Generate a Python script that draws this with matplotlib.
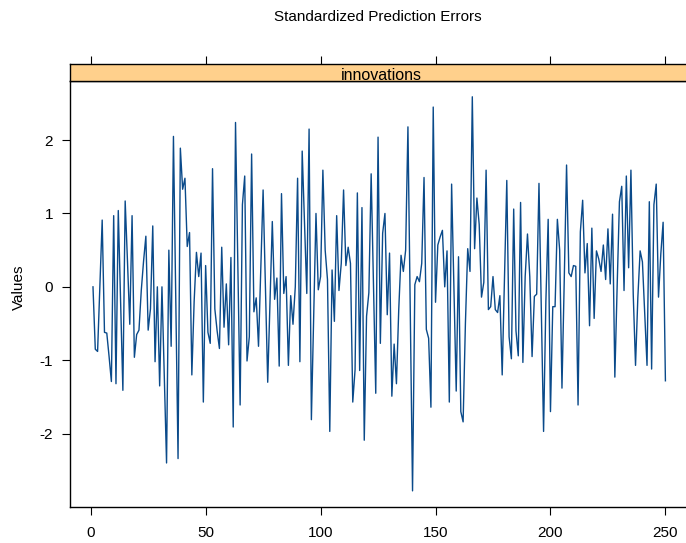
import numpy as np
import matplotlib
matplotlib.use("Agg")
import matplotlib.pyplot as plt

plt.rcParams['font.family'] = ['Liberation Sans', 'DejaVu Sans']

# valores (errores de prediccion estandarizados)
errores = [
    0.00, -0.85, -0.88, 0.02, 0.91, -0.62, -0.63, -0.95, -1.29, 0.97,
    -1.32, 1.04, -0.20, -1.41, 1.17, 0.35, -0.51, 0.97, -0.96, -0.65,
    -0.59, -0.05, 0.35, 0.69, -0.59, -0.30, 0.83, -1.02, 0.00, -1.35,
    0.00, -1.20, -2.40, 0.50, -0.81, 2.05, -0.15, -2.34, 1.89, 1.33,
    1.48, 0.55, 0.74, -1.20, -0.20, 0.47, 0.14, 0.46, -1.57, 0.29,
    -0.62, -0.77, 1.61, -0.30, -0.60, -0.84, 0.54, -0.55, 0.04, -0.79,
    0.40, -1.91, 2.24, 0.32, -1.61, 1.12, 1.51, -1.01, -0.68, 1.81,
    -0.34, -0.15, -0.81, 0.25, 1.32, 0.00, -1.30, -0.20, 0.89, -0.17,
    0.12, -1.08, 1.27, -0.09, 0.14, -1.07, -0.12, -0.51, 0.00, 1.48,
    -1.02, 1.85, 0.88, -0.09, 2.15, -1.81, -0.40, 1.00, -0.04, 0.14,
    1.59, 0.50, 0.10, -1.97, 0.23, -0.47, 0.97, -0.05, 0.32, 1.32,
    0.29, 0.54, 0.32, -1.57, -1.13, 1.28, -1.14, 1.08, -2.09, -0.40,
    -0.08, 1.54, 0.05, -1.45, 2.04, -0.77, 0.73, 1.00, -0.38, 0.46,
    -1.49, -0.78, -1.32, -0.31, 0.43, 0.21, 0.50, 2.18, -0.30, -2.78,
    0.03, 0.14, 0.07, 0.32, 1.49, -0.58, -0.70, -1.64, 2.45, -0.21,
    0.57, 0.68, 0.77, 0.00, 0.49, -1.57, 1.40, 0.00, -1.42, 0.41,
    -1.70, -1.84, -0.50, 0.52, 0.21, 2.59, 0.52, 1.21, 0.85, -0.14,
    0.06, 1.59, -0.31, -0.27, 0.14, -0.31, -0.35, -0.12, -1.20, 0.10,
    1.45, -0.68, -0.98, 1.06, -0.60, -0.94, 1.15, -1.03, 0.14, 0.72,
    0.14, -0.95, -0.13, -0.10, 1.41, -0.30, -1.97, -0.20, 0.92, -1.70,
    -0.27, -0.27, 0.92, 0.50, -1.38, 0.10, 1.66, 0.19, 0.14, 0.29,
    0.28, -1.61, 0.75, 1.18, 0.19, 0.59, -0.53, 0.80, -0.43, 0.49,
    0.38, 0.21, 0.57, 0.10, 0.79, 0.04, 0.99, -1.23, 0.00, 1.16,
    1.37, -0.05, 1.51, 0.26, 1.59, -0.10, -1.07, -0.15, 0.49, 0.34,
    -0.35, -1.07, 1.16, -1.12, 1.12, 1.40, -0.14, 0.45, 0.88, -1.28,
]
indice = np.arange(1, len(errores) + 1)
ticks_x = [0, 50, 100, 150, 200, 250]
ticks_y = [-2, -1, 0, 1, 2]
titulo_panel = "innovations"

W, H = 686, 543
fig = plt.figure(figsize=(W / 100, H / 100), dpi=100)

# panel principal (se sale un poco por la derecha, como en el original)
izq, der = 70, 693
abajo, arriba = 507, 81
ax = fig.add_axes([izq / W, (H - abajo) / H, (der - izq) / W, (abajo - arriba) / H])
ax.plot(indice, errores, color='#0a4a8a', lw=1.0)
ax.set_xlim(-9, 262)
ax.set_ylim(-3.0, 2.805)
ax.set_xticks(ticks_x)
ax.set_yticks(ticks_y)
ax.set_yticklabels([str(t) for t in ticks_y])
ax.tick_params(direction='out', length=6, width=0.8, labelsize=11, pad=8)
ax.tick_params(axis='y', pad=6.3)
for s in ax.spines.values():
    s.set_linewidth(1.0)
fig.text(19 / W, 1 - 287 / H, 'Values', rotation=90, ha='center', va='center', fontsize=11)

# tira con el nombre del panel
tira_top = 64
ax2 = fig.add_axes([izq / W, (H - arriba) / H, (der - izq) / W, (arriba - tira_top) / H])
ax2.set_facecolor('#ffd08c')
ax2.set_xlim(-9, 262)
ax2.set_ylim(0, 1)
ax2.set_xticks(ticks_x)
ax2.set_yticks([])
ax2.xaxis.tick_top()
ax2.tick_params(axis='x', direction='out', length=6, width=0.8, labeltop=False)
ax2.text(0.5 * (-9 + 262), 0.3, titulo_panel, ha='center', va='center', fontsize=11.5)
for s in ax2.spines.values():
    s.set_linewidth(1.0)

fig.text(378 / W, 1 - 17 / H, 'Standardized Prediction Errors', ha='center', va='center', fontsize=11)

fig.savefig('out.png', dpi=100)
